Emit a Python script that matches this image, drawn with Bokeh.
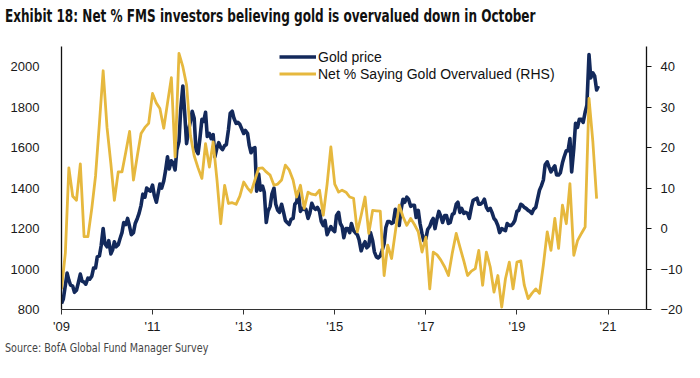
import pandas as pd
from bokeh.plotting import figure
from bokeh.models import (Range1d, LinearAxis, FixedTicker, DatetimeTickFormatter,
                          Legend, LegendItem, Div, ColumnDataSource)
from bokeh.layouts import column
from bokeh.embed import file_html
from bokeh.resources import INLINE

TITLE = "Exhibit 18: Net % FMS investors believing gold is overvalued down in October"
SOURCE = "Source: BofA Global Fund Manager Survey"
GOLD_LABEL = "Gold price"
FMS_LABEL = "Net % Saying Gold Overvalued (RHS)"

# Gold price, USD/oz, twice a month (1st and 15th), Jan 2009 - Oct 2020
gold_2009 = [830, 850, 920, 980, 945, 920, 915, 885, 895, 930, 975, 940,
             935, 925, 955, 950, 965, 1005, 1005, 1060, 1065, 1115, 1200, 1125]
gold_2010 = [1110, 1140, 1075, 1095, 1135, 1110, 1120, 1150, 1180, 1230, 1220, 1250,
             1210, 1170, 1180, 1225, 1250, 1275, 1315, 1370, 1355, 1400, 1390, 1385]
gold_2011 = [1415, 1365, 1330, 1375, 1420, 1400, 1435, 1485, 1555, 1495, 1535, 1525,
             1490, 1590, 1630, 1790, 1905, 1780, 1620, 1680, 1730, 1780, 1745, 1590]
gold_2012 = [1570, 1640, 1740, 1730, 1775, 1655, 1670, 1645, 1665, 1555, 1600, 1625,
             1600, 1590, 1610, 1615, 1690, 1770, 1780, 1745, 1720, 1725, 1715, 1695]
gold_2013 = [1670, 1685, 1670, 1610, 1575, 1595, 1600, 1385, 1470, 1390, 1410, 1380,
             1230, 1285, 1310, 1370, 1400, 1320, 1290, 1280, 1320, 1285, 1240, 1230]
gold_2014 = [1220, 1245, 1250, 1320, 1330, 1380, 1285, 1300, 1295, 1295, 1250, 1275,
             1325, 1305, 1295, 1305, 1285, 1235, 1215, 1240, 1170, 1190, 1210, 1195]
gold_2015 = [1185, 1265, 1280, 1225, 1210, 1155, 1200, 1200, 1180, 1225, 1190, 1180,
             1170, 1145, 1090, 1115, 1135, 1105, 1115, 1180, 1140, 1085, 1060, 1055]
gold_2016 = [1065, 1090, 1125, 1205, 1235, 1235, 1225, 1230, 1295, 1275, 1215, 1290,
             1345, 1330, 1355, 1345, 1310, 1315, 1315, 1255, 1290, 1225, 1175, 1140]
gold_2017 = [1150, 1195, 1210, 1235, 1250, 1200, 1250, 1285, 1260, 1230, 1265, 1265,
             1225, 1230, 1270, 1275, 1320, 1330, 1280, 1300, 1275, 1280, 1275, 1250]
gold_2018 = [1305, 1340, 1345, 1350, 1320, 1320, 1330, 1345, 1305, 1290, 1300, 1280,
             1250, 1240, 1215, 1180, 1200, 1195, 1190, 1225, 1215, 1215, 1225, 1240]
gold_2019 = [1285, 1290, 1320, 1315, 1305, 1300, 1290, 1285, 1275, 1295, 1305, 1345,
             1390, 1410, 1440, 1515, 1530, 1505, 1480, 1495, 1510, 1465, 1465, 1475]
gold_2020 = [1525, 1555, 1585, 1585, 1645, 1480, 1595, 1720, 1700, 1740, 1740, 1725,
             1775, 1810, 2060, 1945, 1970, 1955, 1885, 1905]
gold_price = (gold_2009 + gold_2010 + gold_2011 + gold_2012 + gold_2013 + gold_2014 +
              gold_2015 + gold_2016 + gold_2017 + gold_2018 + gold_2019 + gold_2020)

# Net % of FMS investors saying gold is overvalued, monthly Jan 2009 - Oct 2020
fms_2009 = [-15, -6, 15, 8, 7, 16, -2, -2, 5, 13, 26, 39]
fms_2010 = [25, 16, 7, 14, 14, 19, 24, 12, 18, 23.5, 25, 26]
fms_2011 = [33.4, 31, 29.7, 24.8, 31, 37.3, 17.7, 43.3, 40, 35.5, 23, 18]
fms_2012 = [15, 12.4, 21, 15.2, 21.4, 12, 1.2, 10.7, 6.2, 6.4, 6, 8]
fms_2013 = [11.5, 10, 9, 12, 14.9, 15, 14, 13.2, 10.7, 11, 12, 15.7]
fms_2014 = [14.5, 12, 7.8, 10.7, 5, 9, 8.5, 8.3, 9.5, 3.3, 11, 20.2]
fms_2015 = [11, 9, 9.5, 9, 7.8, 7.5, -0.8, 3.3, 7.8, -1.2, 4.5, 4.4]
fms_2016 = [4.3, -11.6, -4.1, -7.4, -0.8, 5.8, 3, 0.8, 2.5, 1, -0.8, -5.8]
fms_2017 = [-2.1, -14.9, -5.8, -6.5, -7.8, -9.5, -11.6, -6, -1.2, -4.6, -8, -11.6]
fms_2018 = [-10.5, -9.9, -5.4, -14, -5.8, -9.5, -15.7, -11.6, -19.4, -12.4, -8.3, -14.9]
fms_2019 = [-8.3, -8, -14, -17.3, -16, -14.9, -16, -9, -0.8, -5.4, 2.5, -4.9]
fms_2020 = [5.8, 1.2, 11.1, -6.6, -3, -1.2, 0.4, 32.2, 21.4, 7.4]
fms_net = (fms_2009 + fms_2010 + fms_2011 + fms_2012 + fms_2013 + fms_2014 +
           fms_2015 + fms_2016 + fms_2017 + fms_2018 + fms_2019 + fms_2020)

x_tick_years = [2009, 2011, 2013, 2015, 2017, 2019, 2021]
left_ticks = [800, 1000, 1200, 1400, 1600, 1800, 2000]
right_ticks = [-20, -10, 0, 10, 20, 30, 40]

gold_dates = pd.date_range("2009-01-01", periods=len(gold_price), freq="SMS")
fms_dates = pd.date_range("2009-01-01", periods=len(fms_net), freq="MS")

NAVY = "#13295B"
YELLOW = "#E6B83E"
RULE = "#5b7db3"
FONT = "Liberation Sans"
NARROW = "'Liberation Sans Narrow','DejaVu Sans Condensed',sans-serif"

p = figure(width=700, height=304, x_axis_type="datetime",
           x_range=Range1d(pd.Timestamp("2009-01-01"), pd.Timestamp("2021-11-05")),
           y_range=Range1d(800, 2100),
           output_backend="svg", toolbar_location=None,
           min_border_left=61, min_border_right=54, min_border_top=12, min_border_bottom=29,
           margin=0)
p.extra_y_ranges = {"rhs": Range1d(-20, 45)}
p.outline_line_color = None
p.xgrid.grid_line_color = None
p.ygrid.grid_line_color = None
p.background_fill_color = "white"
p.border_fill_alpha = 0

gsrc = ColumnDataSource(dict(x=gold_dates, y=gold_price))
fsrc = ColumnDataSource(dict(x=fms_dates, y=fms_net))
r_gold = p.line("x", "y", source=gsrc, line_color=NAVY, line_width=3.6, line_join="round")
r_fms = p.line("x", "y", source=fsrc, line_color=YELLOW, line_width=2.8,
               line_join="round", y_range_name="rhs")

# x axis
xa = p.xaxis[0]
xa.ticker = FixedTicker(ticks=[pd.Timestamp(f"{y}-01-01").value / 1e6 for y in x_tick_years])
fmt = "'%y"
xa.formatter = DatetimeTickFormatter(years=fmt, months=fmt, days=fmt, hours=fmt,
                                     hourmin=fmt, minutes=fmt, minsec=fmt, seconds=fmt,
                                     milliseconds=fmt, microseconds=fmt)
xa.axis_line_color = "#333333"
xa.axis_line_width = 1.2
xa.major_tick_in = 0
xa.major_tick_out = 5
xa.major_tick_line_color = "#333333"
xa.minor_tick_line_color = None
xa.major_label_standoff = 4
xa.major_label_text_font = FONT
xa.major_label_text_font_size = "13px"
xa.major_label_text_color = "#1a1a1a"

# left axis
ya = p.yaxis[0]
ya.ticker = FixedTicker(ticks=left_ticks)
ya.axis_line_color = "#111111"
ya.axis_line_width = 1.3
ya.major_tick_line_color = None
ya.minor_tick_line_color = None
ya.major_label_standoff = 16
ya.major_label_text_font = FONT
ya.major_label_text_font_size = "13px"
ya.major_label_text_color = "#1a1a1a"

# right axis
ra = LinearAxis(y_range_name="rhs", ticker=FixedTicker(ticks=right_ticks))
ra.axis_line_color = "#111111"
ra.axis_line_width = 1.3
ra.major_tick_in = 0
ra.major_tick_out = 5
ra.major_tick_line_color = "#111111"
ra.minor_tick_line_color = None
ra.major_label_standoff = 9
ra.major_label_text_font = FONT
ra.major_label_text_font_size = "13px"
ra.major_label_text_color = "#1a1a1a"
p.add_layout(ra, "right")

legend = Legend(items=[LegendItem(label=GOLD_LABEL, renderers=[r_gold]),
                       LegendItem(label=FMS_LABEL, renderers=[r_fms])],
                location=(218, 227), padding=0, margin=0, spacing=0,
                glyph_width=37, glyph_height=17, label_height=17, label_standoff=2,
                label_text_font=FONT, label_text_font_size="14px",
                label_text_color="#111111",
                border_line_alpha=0, background_fill_alpha=0)
p.add_layout(legend)

title_div = Div(
    text=(f'<span style="display:inline-block;white-space:nowrap;transform:scaleX(0.745);'
          f'transform-origin:0 0;">{TITLE}</span>'),
    width=690, height=28, margin=(0, 5, 0, 5),
    styles={"font-family": NARROW, "font-weight": "bold", "font-size": "18px",
            "line-height": "22px", "color": "#111111", "padding-top": "5px",
            "overflow": "hidden"})

# thin blue rule under the title: a 6px strip whose 2px plotting area is filled blue
rule = figure(width=690, height=6, title=None, output_backend="svg", toolbar_location=None,
              min_border_top=2, min_border_bottom=2, min_border_left=0, min_border_right=0,
              margin=(0, 5, 0, 5), x_axis_location=None, y_axis_location=None,
              background_fill_color=RULE, border_fill_color="white", outline_line_color=None)
rule.xgrid.grid_line_color = None
rule.ygrid.grid_line_color = None

source_div = Div(
    text=(f'<span style="display:inline-block;white-space:nowrap;transform:scaleX(0.89);'
          f'transform-origin:0 0;">{SOURCE}</span>'),
    width=690, height=20, margin=(0, 5, 0, 5),
    styles={"font-family": NARROW, "font-size": "12px", "line-height": "20px",
            "color": "#444444"})

layout = column(title_div, rule, p, source_div, margin=0, spacing=0)
open("out.html", "w").write(file_html(layout, INLINE))
